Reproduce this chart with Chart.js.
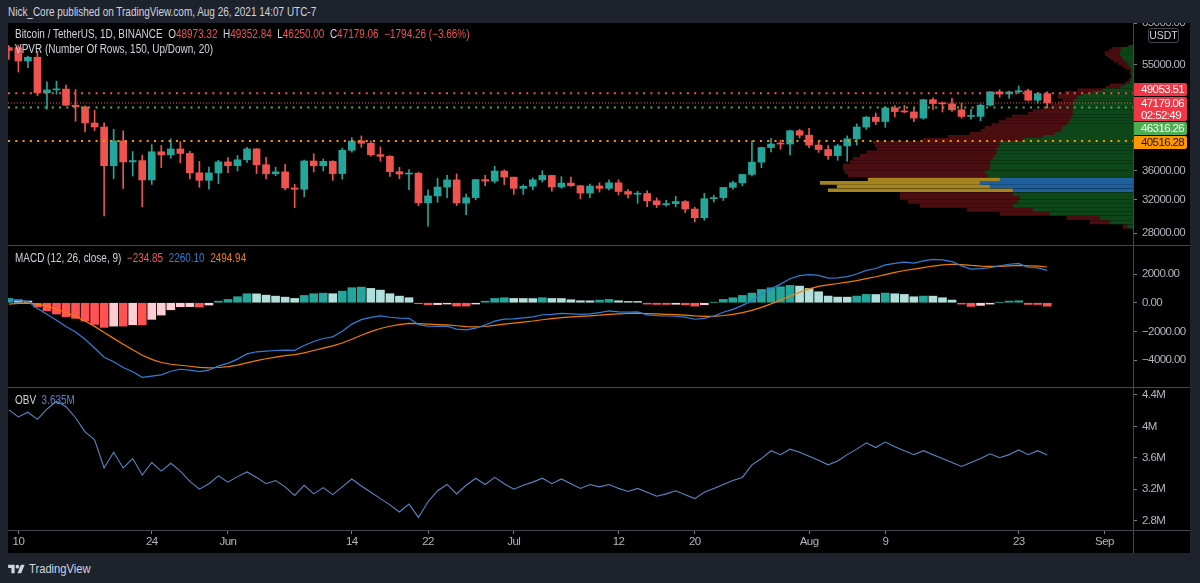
<!DOCTYPE html>
<html><head><meta charset="utf-8">
<script src="https://cdn.jsdelivr.net/npm/chart.js@4.4.1/dist/chart.umd.min.js"></script>
<style>
html,body{margin:0;padding:0;background:#1e222d;width:1200px;height:583px;overflow:hidden;font-family:"Liberation Sans",Arial,sans-serif;}
.sq{transform:scaleX(0.83);transform-origin:0 50%;}
#hdr{position:absolute;left:8px;top:4px;font-size:12px;line-height:16px;color:#d1d4dc;white-space:pre;}
#box{position:absolute;left:8px;top:23px;width:1182px;height:530px;background:#000;overflow:hidden;}
canvas{position:absolute;left:0;}
.sep{position:absolute;background:#434651;}
.leg{position:absolute;left:7px;font-size:12px;line-height:15px;color:#d1d4dc;white-space:pre;}
#usdt{position:absolute;left:1140px;top:5px;width:29px;height:13px;border:1px solid #434651;border-radius:3px;color:#d1d4dc;font-size:10.5px;line-height:13px;text-align:center;background:#000;}
#foot{position:absolute;left:8px;top:561px;color:#d1d4dc;font-size:13.5px;line-height:16px;display:flex;align-items:center;gap:4px;}
</style></head>
<body>
<div id="hdr" class="sq">Nick_Core published on TradingView.com, Aug 26, 2021 14:07 UTC-7</div>
<div id="box">
  <canvas id="cv" width="1125" height="222" style="top:0px"></canvas>
  <canvas id="cp" width="1182" height="222" style="top:0px"></canvas>
  <canvas id="cm" width="1182" height="141" style="top:223px"></canvas>
  <canvas id="co" width="1182" height="165" style="top:365px"></canvas>
  <div class="sep" style="left:0;top:222px;width:1182px;height:1px"></div>
  <div class="sep" style="left:0;top:364px;width:1182px;height:1px"></div>
  <div class="sep" style="left:0;top:507px;width:1182px;height:1px"></div>
  <div class="sep" style="left:1125px;top:0;width:1px;height:530px"></div>
  <div id="usdt">USDT</div>
  <div class="leg sq" id="l1" style="top:4px"></div>
  <div class="leg sq" style="top:19px">VPVR (Number Of Rows, 150, Up/Down, 20)</div>
  <div class="leg sq" id="l3" style="top:228px"></div>
  <div class="leg sq" id="l4" style="top:370px"></div>
</div>
<div id="foot"><svg width="17" height="13" viewBox="0 0 36 28"><path fill="#d1d4dc" d="M14 22H7V11H0V4h14v18zM28 22h-8l7.5-18h8L28 22z"/><circle fill="#d1d4dc" cx="20" cy="8" r="4"/></svg><span class="sq" style="display:inline-block">TradingView</span></div>
<script>
// ---------- DATA ----------
const firstDay = -1; // day index of first candle (May 9) relative to May 10
const open  = [58900,58877,55816,56670,49150,49716,49880,46760,46450,43538,42849,36690,40526,37252,37449,34655,38796,38324,39241,38529,35663,34605,35641,37253,36694,37568,39246,36829,35516,35796,33556,33380,37389,36677,37331,35546,39021,40516,40143,38349,38093,35820,35483,35601,31614,32510,33676,34664,31577,32283,34700,34494,35911,35045,33502,33786,34669,35288,33690,34220,33863,32875,33816,33503,34259,33086,32729,32820,31874,31384,31521,31778,30839,29790,32144,32287,33635,34258,35426,37208,39457,40019,40018,42206,41461,39850,39146,38207,39723,40862,42836,44572,43794,46248,45585,45510,44400,47800,47068,47006,45901,44695,44710,46760,49339,48906,49321,49546,47707,48973.32];
const high  = [59350,59500,56862,58000,51367,51483,50700,49795,46643,45800,43546,42451,42200,38829,38270,39920,39791,40841,40411,38856,37338,36488,37499,37894,38225,39476,39289,37925,36480,36900,34068,37534,38491,37680,37437,39380,41064,41330,40527,39560,38202,36457,36137,35750,33298,34881,35298,35500,32730,34749,35297,36600,36100,35057,33977,34945,35967,35293,35118,35059,33920,34100,34262,34666,34679,33340,33114,33185,32249,31948,32435,31899,31063,32858,32591,33650,34500,35398,40550,39542,40900,40640,42316,42448,42599,40459,39780,39969,41350,43392,44700,45310,46454,46700,46743,46218,47886,48144,47372,48053,47160,46000,47033,49382,49757,49500,50500,49875,49240,49352.84];
const low   = [56200,53400,54370,48600,46000,48868,46650,43825,42001,42250,30000,34850,33488,35200,31111,34031,36419,37800,37134,34779,33632,33379,34153,35666,35920,37170,35555,34800,35258,33300,31000,32396,35782,35936,34600,34757,38730,39506,38116,37365,35129,34833,33336,31251,28805,31683,32286,31275,30151,32000,33862,34226,34017,32711,32699,33316,34357,33125,33532,33777,32133,32261,33004,33306,32658,32203,31550,31133,31020,31179,31108,30407,29278,29482,31708,31925,33401,33851,35206,36383,38772,39200,38313,41000,39422,38690,37642,37508,37332,39853,42446,43261,42779,44589,45341,43770,44217,45971,45500,45618,44376,44203,43927,46622,48273,48050,49030,47600,47135,46250.00];
const close = [58240,55816,56670,49150,49716,49880,46760,46450,43538,42849,36690,40526,37252,37449,34655,38796,38324,39241,38529,35663,34605,35641,37253,36693,37568,39246,36829,35513,35796,33552,33380,37388,36675,37331,35546,39020,40516,40144,38349,38092,35820,35483,35600,31608,32509,33678,34663,31594,32275,34700,34494,35911,35045,33504,33786,34669,35287,33690,34220,33862,32875,33815,33502,34259,33086,32729,32820,31880,31383,31520,31778,30839,29790,32144,32287,33634,34258,35425,37208,39457,40019,40016,42206,41461,39845,39147,38207,39723,40862,42836,44572,43794,46253,45584,45511,44399,47800,47069,47006,45901,44696,44705,46760,49339,48905,49321,49546,47706,48973,47179.06];

const macdLine   = [200,150,100,-395,-795,-1223,-1658,-2041,-2551,-3159,-3799,-4117,-4525,-4820,-5205,-5115,-5030,-4783,-4643,-4701,-4806,-4706,-4408,-4230,-3935,-3567,-3422,-3379,-3334,-3306,-3321,-2983,-2705,-2497,-2379,-1996,-1493,-1180,-1020,-920,-1012,-1067,-1089,-1527,-1632,-1655,-1638,-1836,-1894,-1777,-1549,-1284,-1146,-1121,-1052,-984,-836,-811,-742,-774,-809,-780,-684,-574,-635,-659,-641,-846,-896,-925,-943,-1004,-1151,-1090,-923,-660,-463,-181,138,609,968,1298,1671,1896,1965,1911,1717,1739,1825,2008,2259,2387,2642,2741,2830,2764,2920,3022,2990,2872,2571,2350,2376,2447,2568,2688,2743,2461,2430,2260.10];
const signalLine = [-100,-50,-20,-95,-235,-433,-678,-951,-1271,-1649,-2079,-2487,-2895,-3280,-3665,-3955,-4170,-4293,-4363,-4431,-4506,-4546,-4518,-4460,-4355,-4197,-4042,-3909,-3794,-3696,-3621,-3493,-3335,-3167,-3009,-2806,-2543,-2270,-2020,-1800,-1642,-1527,-1439,-1457,-1492,-1525,-1548,-1606,-1664,-1687,-1659,-1584,-1496,-1421,-1347,-1274,-1186,-1111,-1037,-984,-949,-915,-870,-806,-774,-752,-731,-753,-780,-807,-833,-865,-919,-951,-946,-892,-811,-692,-536,-320,-77,183,463,734,966,1144,1252,1344,1435,1543,1678,1812,1968,2114,2249,2346,2455,2562,2642,2686,2664,2605,2562,2540,2545,2572,2604,2577,2550,2494.94];
const histogram  = [300,200,120,-300,-560,-790,-980,-1090,-1280,-1510,-1720,-1630,-1630,-1540,-1540,-1160,-860,-490,-280,-270,-300,-160,110,230,420,630,620,530,460,390,300,510,630,670,630,810,1050,1090,1000,880,630,460,350,-70,-140,-130,-90,-230,-230,-90,110,300,350,300,295,290,350,300,295,210,140,135,186,232,139,93,90,-93,-116,-118,-110,-139,-232,-139,23,232,348,511,674,929,1045,1115,1208,1162,999,767,465,395,390,465,581,575,674,627,581,418,465,460,348,186,-93,-255,-186,-93,23,116,139,-116,-120,-234.85];

const obvM = [4.21,4.12,4.18,4.09,4.22,4.32,4.25,4.11,3.93,3.83,3.47,3.67,3.47,3.59,3.38,3.54,3.43,3.53,3.43,3.30,3.20,3.27,3.37,3.29,3.36,3.42,3.35,3.27,3.31,3.23,3.12,3.25,3.14,3.22,3.13,3.23,3.33,3.24,3.16,3.08,3.00,2.91,3.01,2.84,3.04,3.18,3.26,3.14,3.25,3.34,3.26,3.35,3.27,3.20,3.25,3.29,3.34,3.27,3.33,3.27,3.21,3.26,3.23,3.26,3.21,3.17,3.21,3.16,3.11,3.14,3.18,3.13,3.08,3.16,3.21,3.26,3.31,3.35,3.51,3.59,3.69,3.64,3.71,3.67,3.62,3.57,3.51,3.56,3.64,3.71,3.79,3.73,3.80,3.74,3.69,3.64,3.69,3.64,3.59,3.54,3.49,3.54,3.59,3.65,3.60,3.64,3.70,3.64,3.69,3.635];

// Volume profile of the visible range: row lower bound (USDT, 500 wide), up volume, down volume (relative units)
const vpRowLow = [28500,29000,29500,30000,30500,31000,31500,32000,32500,33000,33500,34000,34500,35000,35500,36000,36500,37000,37500,38000,38500,39000,39500,40000,40500,41000,41500,42000,42500,43000,43500,44000,44500,45000,45500,46000,46500,47000,47500,48000,48500,49000,49500,50000,50500,51000,51500,52000,52500,53000,53500,54000,54500,55000,55500,56000,56500,57000,57500,58000,58500,59000];
const vpUp   = [5,23,33,83,100,120,115,113,120,120,143,153,133,145,148,143,143,143,140,138,136,136,133,133,110,90,78,72,70,66,64,62,61,60,60,60,60,60,58,55,50,40,30,12,8,3,2,1,1,1,1,2,3,5,7,10,11,13,13,12,11,3];
const vpDown = [5,20,33,50,66,93,110,120,113,185,153,160,132,140,140,147,147,140,140,135,130,120,125,127,100,95,85,80,78,75,70,65,60,45,40,30,22,15,12,20,25,28,25,15,15,4,2,1,1,2,2,6,8,10,12,12,14,15,15,12,10,2];
const vpRowSize = 500;
const valueArea = [33000, 35000];

const levelPrices = [49053.51, 46316.26, 40516.28];
const countdown = '02:52:49';

const xTickDays   = [0,14,22,35,43,52,63,71,83,91,105,114];
const xTickLabels = ['10','24','Jun','14','22','Jul','12','20','Aug','9','23','Sep'];
const priceTicks = [28000,32000,36000,55000,65000];
const macdTicks  = [-4000,-2000,0,2000];
const obvTicks   = [2.8,3.2,3.6,4.0,4.4];

// ---------- STYLE ----------
const FONT = '"Liberation Sans",Arial,sans-serif';
const UP = '#26a69a', DOWN = '#ef5350';
const LEVEL_COLORS = ['#ef5350', '#4caf50', '#ff9800'];
const OBV_COLOR = '#5b86c6';
const X_MIN = -1.09, X_MAX = 117.0;
const P_MIN = 26700, P_MAX = 65000;
const TICK_COLOR = '#b2b5be';
Chart.defaults.font.family = FONT;

const days = open.map((_, i) => firstDay + i);
const last = open.length - 1;
const lastPrice = close[last];
const fmt2 = v => (v < 0 ? '\u2212' : '') + Math.abs(v).toFixed(2);

// legends
(function () {
  const chg = close[last] - open[last];
  const pct = chg / open[last] * 100;
  const col = chg < 0 ? DOWN : UP;
  const v = t => `<span style="color:${col}">${t}</span>`;
  document.getElementById('l1').innerHTML =
    `Bitcoin / TetherUS, 1D, BINANCE  O${v(open[last].toFixed(2))}  H${v(high[last].toFixed(2))}  L${v(low[last].toFixed(2))}  C${v(close[last].toFixed(2))}  ${v(fmt2(chg) + ' (' + fmt2(pct) + '%)')}`;
  document.getElementById('l3').innerHTML =
    `MACD (12, 26, close, 9)  <span style="color:#f05a5a">${fmt2(histogram[last])}</span>  <span style="color:#2f7fd8">${fmt2(macdLine[last])}</span>  <span style="color:#f57c00">${fmt2(signalLine[last])}</span>`;
  document.getElementById('l4').innerHTML =
    `OBV  <span style="color:${OBV_COLOR}">${obvM[last].toFixed(3)}M</span>`;
})();

const narrow = { id: 'narrow', beforeDraw(chart) { chart.ctx.letterSpacing = '-0.6px'; } };

function xScale(show) {
  return {
    type: 'linear', min: X_MIN, max: X_MAX, display: show, offset: false,
    afterBuildTicks: s => { s.ticks = xTickDays.map(v => ({ value: v })); },
    afterFit: s => { if (show) { s.height = 23; } s.paddingLeft = 0; s.paddingRight = 0; },
    ticks: { callback: v => xTickLabels[xTickDays.indexOf(v)] ?? '', color: TICK_COLOR, font: { size: 11.5, family: FONT }, maxRotation: 0, autoSkip: false, padding: 1 },
    grid: { drawOnChartArea: false, drawTicks: true, tickLength: 4, color: '#787b86', offset: false },
    border: { display: false }
  };
}
function yScale(type, min, max, ticksArr, fmt) {
  return {
    type, position: 'right', min, max, offset: false,
    afterBuildTicks: s => { s.ticks = ticksArr.map(v => ({ value: v })); },
    afterFit: s => { s.width = 57; s.paddingTop = 0; s.paddingBottom = 0; },
    ticks: { callback: fmt, color: TICK_COLOR, font: { size: 11.5, family: FONT }, padding: 5, autoSkip: false },
    grid: { drawOnChartArea: false, drawTicks: true, tickLength: 4, color: '#787b86' },
    border: { display: false }
  };
}
const baseOpts = {
  responsive: false, maintainAspectRatio: false, animation: false, events: [],
  devicePixelRatio: 1,
  layout: { padding: 0, autoPadding: false },
  plugins: { legend: { display: false }, tooltip: { enabled: false } }
};

// ---- volume profile (drawn underneath the price pane) ----
const vpMid = vpRowLow.map(p => p + vpRowSize / 2);
const inVA = p => p >= valueArea[0] && p < valueArea[1];
const volMax = Math.max(...vpUp.map((u, i) => u + vpDown[i])) / 0.278;
new Chart(document.getElementById('cv'), {
  type: 'bar',
  data: {
    datasets: [
      { stack: 'vp', data: vpMid.map((p, i) => ({ y: p, x: vpUp[i] })),
        backgroundColor: ctx => inVA(vpMid[ctx.dataIndex]) ? '#1f5f9e' : '#0c4619',
        barThickness: 'flex', categoryPercentage: 1, barPercentage: 0.8 },
      { stack: 'vp', data: vpMid.map((p, i) => ({ y: p, x: vpDown[i] })),
        backgroundColor: ctx => inVA(vpMid[ctx.dataIndex]) ? '#a3841f' : '#4a0d10',
        barThickness: 'flex', categoryPercentage: 1, barPercentage: 0.8 }
    ]
  },
  options: {
    ...baseOpts, indexAxis: 'y',
    scales: {
      x: { type: 'linear', min: 0, max: volMax, reverse: true, display: false, offset: false },
      y: { type: 'logarithmic', min: P_MIN, max: P_MAX, display: false, offset: false }
    }
  }
});

// ---- price pane ----
const priceLabels = [
  { value: levelPrices[0], bg: '#f23645', fg: '#ffffff', lines: [levelPrices[0].toFixed(2)] },
  { value: lastPrice, bg: '#f23645', fg: '#ffffff', lines: [lastPrice.toFixed(2), countdown] },
  { value: levelPrices[1], bg: '#4caf50', fg: '#ffffff', lines: [levelPrices[1].toFixed(2)] },
  { value: levelPrices[2], bg: '#ff9800', fg: '#131722', lines: [levelPrices[2].toFixed(2)] }
];
const boxPlugin = {
  id: 'boxes',
  afterDraw(chart) {
    const ys = chart.scales.y, c = chart.ctx;
    const L = ys.left, R = L + 54;
    const items = priceLabels.map(p => ({ ...p, h: p.lines.length > 1 ? 24 : 13 }));
    items.forEach(it => { it.want = ys.getPixelForValue(it.value) - 6.5; it.top = it.want; });
    items.sort((a, b) => a.want - b.want);
    for (let i = 1; i < items.length; i++) {
      const p = items[i - 1];
      if (items[i].top < p.top + p.h + 1) items[i].top = p.top + p.h + 1;
    }
    const mean = items.reduce((s, it) => s + (it.top - it.want), 0) / items.length;
    items.forEach(it => it.top -= mean * 0.43);
    c.save();
    c.letterSpacing = '-0.6px';
    c.font = '11.5px ' + FONT; c.textBaseline = 'middle'; c.textAlign = 'left';
    items.forEach(it => {
      c.fillStyle = it.bg;
      c.beginPath(); c.roundRect(L, it.top, R - L, it.h, 2); c.fill();
      c.fillStyle = it.fg;
      it.lines.forEach((t, k) => c.fillText(t, L + 8, it.top + 7 + k * 11.5));
    });
    c.restore();
  }
};

const candleCol = ctx => close[ctx.dataIndex] >= open[ctx.dataIndex] ? UP : DOWN;
const levelDs = (p, col, w, dash) => ({
  type: 'line', order: 0,
  data: [{ x: X_MIN, y: p }, { x: X_MAX, y: p }],
  borderColor: col, borderWidth: w, borderDash: dash, pointRadius: 0, borderCapStyle: 'butt'
});

new Chart(document.getElementById('cp'), {
  type: 'bar',
  data: {
    datasets: [
      levelDs(levelPrices[0], LEVEL_COLORS[0], 2, [2, 5.3]),
      levelDs(levelPrices[1], LEVEL_COLORS[1], 2, [2, 5.3]),
      levelDs(levelPrices[2], LEVEL_COLORS[2], 2, [2, 5.3]),
      levelDs(lastPrice, '#ef5350', 1, [1, 2]),
      { type: 'bar', grouped: false, order: 2,
        data: days.map((d, i) => ({ x: d, y: [low[i], high[i]] })),
        backgroundColor: candleCol, barThickness: 1 },
      { type: 'bar', grouped: false, order: 1, minBarLength: 1,
        data: days.map((d, i) => ({ x: d, y: [open[i], close[i]] })),
        backgroundColor: candleCol, barThickness: 7 }
    ]
  },
  options: {
    ...baseOpts,
    scales: {
      x: xScale(false),
      y: yScale('logarithmic', P_MIN, P_MAX, priceTicks, v => fmt2(v))
    }
  },
  plugins: [narrow, boxPlugin]
});

// ---- MACD pane ----
const histCol = ctx => {
  const i = ctx.dataIndex, h = histogram[i], p = i > 0 ? histogram[i - 1] : -Infinity;
  return h >= 0 ? (p < h ? '#26a69a' : '#b2dfdb') : (p < h ? '#ffcdd2' : '#ff5252');
};
new Chart(document.getElementById('cm'), {
  type: 'bar',
  data: {
    datasets: [
      { type: 'line', order: 1, data: days.map((d, i) => ({ x: d, y: macdLine[i] })), borderColor: '#2f7fd8', borderWidth: 1.2, pointRadius: 0, tension: 0 },
      { type: 'line', order: 2, data: days.map((d, i) => ({ x: d, y: signalLine[i] })), borderColor: '#f57c00', borderWidth: 1.2, pointRadius: 0, tension: 0 },
      { type: 'bar', order: 3, grouped: false, data: days.map((d, i) => ({ x: d, y: histogram[i] })), backgroundColor: histCol, barThickness: 8 }
    ]
  },
  options: { ...baseOpts, scales: { x: xScale(false), y: yScale('linear', -5880, 3960, macdTicks, v => fmt2(v)) } },
  plugins: [narrow]
});

// ---- OBV pane ----
new Chart(document.getElementById('co'), {
  type: 'line',
  data: { datasets: [ { data: days.map((d, i) => ({ x: d, y: obvM[i] })), borderColor: OBV_COLOR, borderWidth: 1.1, pointRadius: 0, tension: 0 } ] },
  options: { ...baseOpts, scales: { x: xScale(true), y: yScale('linear', 2.68, 4.489, obvTicks, v => (Math.round(v * 10) / 10) + 'M') } },
  plugins: [narrow]
});
</script>
</body></html>
